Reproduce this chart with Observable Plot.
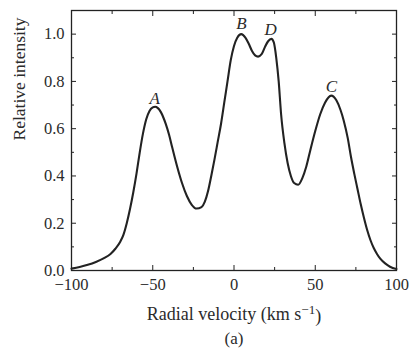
<!DOCTYPE html>
<html>
<head>
<meta charset="utf-8">
<script src="https://cdn.jsdelivr.net/npm/d3@7"></script>
<script src="https://cdn.jsdelivr.net/npm/@observablehq/plot@0.6"></script>
<style>
  html, body { margin: 0; padding: 0; background: #fff; }
  #chart { width: 409px; height: 361px; }
</style>
</head>
<body>
<div id="chart"></div>
<script>
// Radial velocity (km/s) and relative intensity
const velocity = [-100, -95, -90, -85, -80, -76, -73, -70, -68, -66, -64, -62, -60, -58, -56, -54, -52, -50, -48.5, -47, -45, -42, -40, -38, -35, -32, -29, -26, -23, -20, -18, -16, -14, -12, -10, -8, -6, -4, -2, 0, 2, 4.5, 7, 9, 11, 13, 14.8, 17, 19, 21, 23, 24.5, 26, 27.5, 29, 31, 33, 35, 37, 39.5, 42, 44.5, 47, 50, 53, 56, 59.8, 63, 65.5, 67.5, 70, 72, 74, 76, 78, 80, 82, 84, 86, 88, 90, 93, 96, 100];
const intensity = [0.008, 0.015, 0.024, 0.036, 0.052, 0.07, 0.092, 0.122, 0.152, 0.2, 0.26, 0.33, 0.41, 0.5, 0.58, 0.64, 0.675, 0.69, 0.693, 0.688, 0.67, 0.62, 0.575, 0.52, 0.44, 0.37, 0.315, 0.278, 0.262, 0.268, 0.29, 0.335, 0.40, 0.47, 0.545, 0.62, 0.71, 0.8, 0.89, 0.95, 0.985, 1.0, 0.985, 0.96, 0.93, 0.91, 0.905, 0.915, 0.945, 0.97, 0.98, 0.965, 0.9, 0.8, 0.66, 0.54, 0.455, 0.4, 0.37, 0.363, 0.39, 0.44, 0.51, 0.59, 0.66, 0.71, 0.74, 0.72, 0.68, 0.635, 0.56, 0.48, 0.41, 0.345, 0.28, 0.222, 0.17, 0.128, 0.095, 0.07, 0.05, 0.03, 0.016, 0.006];

const peakLabels = ["A", "B", "D", "C"];
const peakX = [-48.8, 4.5, 22.6, 59.9];
const peakY = [0.727, 1.044, 1.018, 0.78];

const xMajor = [-100, -50, 0, 50, 100];
const xMinor = [-75, -25, 25, 75];
const yMajor = [0, 0.2, 0.4, 0.6, 0.8, 1.0];
const yMinor = [0.1, 0.3, 0.5, 0.7, 0.9];

const curve = velocity.map((v, i) => ({v, I: intensity[i]}));
const peaks = peakLabels.map((t, i) => ({t, x: peakX[i], y: peakY[i]}));

const ink = "#222";
const txt = "#2b2b2b";
const fmtX = d => d < 0 ? "\u2212" + Math.abs(d) : String(d);

const chart = Plot.plot({
  width: 409,
  height: 361,
  marginLeft: 71,
  marginRight: 13,
  marginTop: 10,
  marginBottom: 91,
  style: {fontFamily: "'Liberation Serif', 'DejaVu Serif', serif", fontSize: "17px", color: txt, background: "#fff"},
  x: {domain: [-100, 100]},
  y: {domain: [0, 1.1]},
  marks: [
    Plot.axisX(xMajor, {anchor: "bottom", tickSize: -5, tickPadding: 13, tickFormat: fmtX, label: null, fontSize: 16.5, stroke: ink}),
    Plot.axisX(xMinor, {anchor: "bottom", tickSize: -3, tickFormat: () => "", label: null, stroke: ink}),
    Plot.axisX(xMajor, {anchor: "top", tickSize: -5, tickFormat: () => "", label: null, stroke: ink}),
    Plot.axisX(xMinor, {anchor: "top", tickSize: -3, tickFormat: () => "", label: null, stroke: ink}),
    Plot.axisY(yMajor, {anchor: "left", tickSize: -5, tickPadding: 12, tickFormat: d3.format(".1f"), label: null, fontSize: 16.5, stroke: ink}),
    Plot.axisY(yMinor, {anchor: "left", tickSize: -3, tickFormat: () => "", label: null, stroke: ink}),
    Plot.axisY(yMajor, {anchor: "right", tickSize: -5, tickFormat: () => "", label: null, stroke: ink}),
    Plot.axisY(yMinor, {anchor: "right", tickSize: -3, tickFormat: () => "", label: null, stroke: ink}),
    Plot.frame({stroke: ink, strokeWidth: 1.3}),
    Plot.line(curve, {x: "v", y: "I", curve: "monotone-x", stroke: ink, strokeWidth: 2.1}),
    Plot.text(peaks, {x: "x", y: "y", text: "t", fontStyle: "italic", fontSize: 17, fill: txt}),
    Plot.text(["Radial velocity (km s-1)"], {frameAnchor: "bottom", dy: 49, fontSize: 18, fill: txt}),
    Plot.text(["(a)"], {frameAnchor: "bottom", dy: 73, fontSize: 17, fill: txt}),
    Plot.text(["Relative intensity"], {frameAnchor: "left", dx: -52, rotate: -90, fontSize: 17.5, fill: txt})
  ]
});
document.getElementById("chart").appendChild(chart);

// superscript for the unit
d3.select(chart).selectAll("text").filter(function() { return this.textContent === "Radial velocity (km s-1)"; })
  .each(function() {
    const t = d3.select(this);
    t.text("");
    t.append("tspan").text("Radial velocity (km s");
    t.append("tspan").attr("dy", "-0.45em").attr("font-size", "13px").text("\u22121");
    t.append("tspan").attr("dy", "0.45em").text(")");
  });
</script>
</body>
</html>
